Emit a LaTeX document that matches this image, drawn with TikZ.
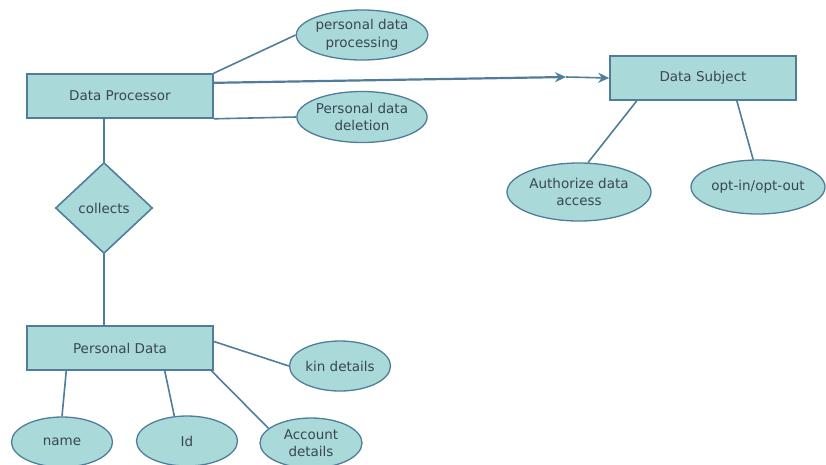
\documentclass[tikz,border=0pt]{standalone}
\usepackage{fontspec}
\setmainfont{DejaVu Sans}
\usepackage{xcolor}
\usepackage{tikz}
\usetikzlibrary{shapes, arrows, arrows.meta, positioning, calc}

\definecolor{erfill}{HTML}{A9D9D9}
\definecolor{erline}{HTML}{4F7D9A}
\definecolor{ertext}{HTML}{3A4654}

\begin{document}
\begin{tikzpicture}[x=1pt, y=-1pt,
    entity/.style={rectangle, draw=erline, fill=erfill, line width=1.6pt, minimum width=186pt, minimum height=44pt, inner sep=0pt},
    attrib/.style={ellipse, draw=erline, fill=erfill, line width=1.3pt, inner sep=0pt, align=center},
    relation/.style={diamond, draw=erline, fill=erfill, line width=1.6pt, minimum width=97pt, minimum height=91pt, inner sep=0pt},
    link/.style={draw=erline, line width=1.6pt},
    every node/.style={text=ertext, font=\fontsize{13.5}{17.5}\selectfont}]
  \useasboundingbox (0,0) rectangle (826,464);

  % Entities
  \node[entity] (dp) at (120,96) {Data Processor};
  \node[entity] (ds) at (703,78) {Data Subject};
  \node[entity] (pd) at (120,348) {Personal Data};

  % Relationship
  \node[relation] (col) at (104,208) {collects};

  % Attributes
  \node[attrib, minimum width=128pt, minimum height=50pt] (proc) at (362,35) {personal data\\processing};
  \node[attrib, minimum width=128pt, minimum height=51pt] (del) at (362,117) {Personal data\\deletion};
  \node[attrib, minimum width=144pt, minimum height=58pt] (auth) at (579,192) {Authorize data\\access};
  \node[attrib, minimum width=134pt, minimum height=54pt] (opt) at (758,187) {opt-in/opt-out};
  \node[attrib, minimum width=101pt, minimum height=50pt] (kin) at (340,366) {kin details};
  \node[attrib, minimum width=101pt, minimum height=50pt] (name) at (62,442) {name};
  \node[attrib, minimum width=101pt, minimum height=50pt] (id) at (187,441) {Id};
  \node[attrib, minimum width=102pt, minimum height=50pt] (acct) at (311,443) {Account\\details};

  % Data Processor links
  \draw[link] (dp.north east) -- (proc.west);
  \draw[link] (dp.south east) -- (del.west);
  \coordinate (mid) at (566,77);
  \draw[link, line width=2.2pt, -{Stealth[length=11pt, width=10pt]}] (dp.8) -- (mid);
  \draw[link, line width=1.6pt, -{Stealth[length=11pt, width=10pt]}] (mid) -- (ds.west);
  \draw[link] (dp.south -| col.north) -- (col.north);
  \draw[link] (col.south) -- (col.south |- pd.north);

  % Data Subject links
  \draw[link] (ds.199) -- (auth.73);
  \draw[link] (ds.326) -- (opt.100);

  % Personal Data links
  \draw[link] (pd.4) -- (kin.west);
  \draw[link] (pd.203) -- (name.north);
  \draw[link] (pd.333) -- (id.117);
  \draw[link] (pd.346) -- (acct.161);
\end{tikzpicture}
\end{document}
